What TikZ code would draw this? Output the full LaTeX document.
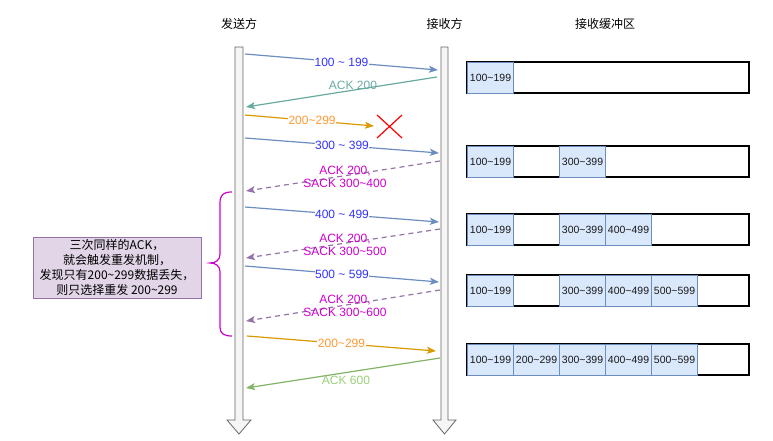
\documentclass[tikz,border=0pt]{standalone}
\usepackage{fontspec}
\setmainfont{Liberation Sans}
\newfontfamily\cjk{Noto Sans CJK SC}
\usetikzlibrary{arrows.meta}
\definecolor{lblue}{HTML}{6C8EBF}
\definecolor{tblue}{HTML}{3333FF}
\definecolor{teal}{HTML}{67AB9F}
\definecolor{orl}{HTML}{D79B00}
\definecolor{ort}{HTML}{FF9933}
\definecolor{mag}{HTML}{CC00CC}
\definecolor{purl}{HTML}{9673A6}
\definecolor{grl}{HTML}{82B366}
\definecolor{grt}{HTML}{97D077}
\definecolor{cellf}{HTML}{DAE8FC}
\definecolor{notef}{HTML}{E1D5E7}
\definecolor{lifef}{HTML}{F5F5F5}
\definecolor{lifed}{HTML}{666666}
\begin{document}
\begin{tikzpicture}[x=1pt,y=-1pt,
  every node/.style={font=\fontsize{12}{14}\selectfont},
  tip/.style={-{Stealth[length=9pt,width=7pt,inset=2pt]}},
  msg/.style={tip,line width=1.2pt},
  blueline/.style={msg,draw=lblue},
  orangeline/.style={msg,draw=orl},
  tealline/.style={msg,draw=teal},
  greenline/.style={msg,draw=grl},
  sackline/.style={msg,draw=purl,dash pattern=on 5pt off 4pt},
  bluelbl/.style={text=tblue,fill=white,inner sep=0.5pt},
  orangelbl/.style={text=ort,fill=white,inner sep=0.5pt},
  sacklbl/.style={text=mag,align=center,inner sep=0pt,font=\fontsize{12}{13}\selectfont},
  lifeline/.style={draw=lifed,fill=lifef,line width=0.8pt},
  outerbox/.style={draw=black,line width=1.4pt},
  cell/.style={draw=lblue,fill=cellf,line width=1.1pt,minimum width=46pt,minimum height=31pt,inner sep=0pt,anchor=north west,text=black!90,font=\fontsize{10.5}{12}\selectfont},
  notebox/.style={draw=purl,fill=notef,line width=0.8pt,minimum width=168pt,minimum height=61pt,align=center,inner sep=1pt,font=\fontsize{12}{15}\selectfont\cjk}
]
\useasboundingbox (0,0) rectangle (773,441);

% lifelines
\draw[lifeline] (235,47) -- (243,47) -- (243,420) -- (251,420) -- (239,434) -- (227,420) -- (235,420) -- cycle;
\draw[lifeline] (441,47) -- (448,47) -- (448,420) -- (456,420) -- (444.5,434) -- (433,420) -- (441,420) -- cycle;

% headers
\node (snd) at (239,24) {\cjk 发送方};
\node (rcv) at (444.5,24) {\cjk 接收方};
\node (bufh) at (605,24) {\cjk 接收缓冲区};

% endpoints
\coordinate (s1) at (245,54);  \coordinate (r1) at (438,70);
\coordinate (r2) at (437,77);  \coordinate (s2) at (246,107);
\coordinate (s3) at (245,115); \coordinate (x3) at (374,126);
\coordinate (s4) at (245,138); \coordinate (r4) at (439,153);
\coordinate (r5) at (440,161); \coordinate (s5) at (246,191);
\coordinate (s6) at (245,207); \coordinate (r6) at (439,222);
\coordinate (r7) at (440,229); \coordinate (s7) at (246,258);
\coordinate (s8) at (245,266); \coordinate (r8) at (439,282);
\coordinate (r9) at (440,290); \coordinate (s9) at (246,321);
\coordinate (s10) at (247,336); \coordinate (r10) at (436,351);
\coordinate (r11) at (440,358); \coordinate (s11) at (246,388);

% messages
\draw[blueline] (s1) -- node[bluelbl] (l1) {100 \textasciitilde{} 199} (r1);
\draw[tealline] (r2) -- (s2);
\node[text=teal,inner sep=0pt] (l2) at (353,85) {ACK 200};
\draw[orangeline] (s3) -- node[orangelbl,pos=0.52] (l3) {200\textasciitilde299} (x3);
\draw[red,line width=1.2pt] (377,115) -- (402,138) (402,115) -- (377,138);
\draw[blueline] (s4) -- node[bluelbl] (l4) {300 \textasciitilde{} 399} (r4);
\draw[sackline] (r5) -- (s5);
\node[sacklbl] (l5) at (345,176.5) {ACK 200,\\SACK 300\textasciitilde400};
\draw[blueline] (s6) -- node[bluelbl] (l6) {400 \textasciitilde{} 499} (r6);
\draw[sackline] (r7) -- (s7);
\node[sacklbl] (l7) at (345,245) {ACK 200,\\SACK 300\textasciitilde500};
\draw[blueline] (s8) -- node[bluelbl] (l8) {500 \textasciitilde{} 599} (r8);
\draw[sackline] (r9) -- (s9);
\node[sacklbl] (l9) at (345,306) {ACK 200,\\SACK 300\textasciitilde600};
\draw[orangeline] (s10) -- node[orangelbl] (l10) {200\textasciitilde299} (r10);
\draw[greenline] (r11) -- (s11);
\node[text=grt,inner sep=0pt] (l11) at (346,380) {ACK 600};

% brace
\draw[mag,line width=1.2pt] (232,192) .. controls (223,192) and (220,195) .. (220,203) -- (220,254) .. controls (220,260) and (216,263) .. (210,263) .. controls (216,263) and (220,266) .. (220,272) -- (220,327) .. controls (220,333) and (223,336) .. (232,336);

% note
\node[notebox] (note) at (117,267.5) {三次同样的ACK，\\就会触发重发机制，\\发现只有200\textasciitilde{}299数据丢失，\\则只选择重发 200\textasciitilde{}299};

% buffers
\draw[outerbox] (467,62) rectangle (749,93);
\node[cell] (b1a) at (467,62) {100\textasciitilde199};

\draw[outerbox] (467,146) rectangle (749,177);
\node[cell] (b2a) at (467,146) {100\textasciitilde199};
\node[cell] (b2c) at (559,146) {300\textasciitilde399};

\draw[outerbox] (467,214) rectangle (749,245);
\node[cell] (b3a) at (467,214) {100\textasciitilde199};
\node[cell] (b3c) at (559,214) {300\textasciitilde399};
\node[cell] (b3d) at (605,214) {400\textasciitilde499};

\draw[outerbox] (467,275) rectangle (749,306);
\node[cell] (b4a) at (467,275) {100\textasciitilde199};
\node[cell] (b4c) at (559,275) {300\textasciitilde399};
\node[cell] (b4d) at (605,275) {400\textasciitilde499};
\node[cell] (b4e) at (651,275) {500\textasciitilde599};

\draw[outerbox] (467,344) rectangle (749,375);
\node[cell] (b5a) at (467,344) {100\textasciitilde199};
\node[cell] (b5b) at (513,344) {200\textasciitilde299};
\node[cell] (b5c) at (559,344) {300\textasciitilde399};
\node[cell] (b5d) at (605,344) {400\textasciitilde499};
\node[cell] (b5e) at (651,344) {500\textasciitilde599};
\end{tikzpicture}
\end{document}
